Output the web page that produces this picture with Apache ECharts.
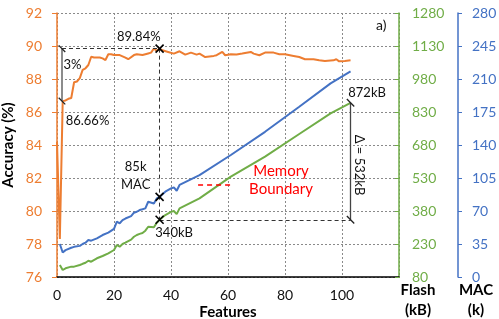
<!DOCTYPE html>
<html><head><meta charset="utf-8">
<script src="https://cdn.jsdelivr.net/npm/echarts@6/dist/echarts.min.js"></script>
<style>html,body{margin:0;padding:0;background:#fff}#c{width:499px;height:319px}</style>
</head><body><div id="c"></div>
<script>
// ---- data ----
const accFeatures = [0,1,2,3,4,5,6,7,8,9,10,11,12,13,14,15,16,17,18,19,20,22,24,25,27,28,30,32,33,34,35,36,37,39,41,43,45,47,49,50,52,55,56,58,59,61,63,65,68,69,71,73,76,78,80,83,85,87,90,92,94,97,98,99,101,103];
const accuracy = [84.2,78.3,86.66,86.7,86.8,86.85,87.8,87.85,88.05,88.55,88.65,88.85,89.35,89.3,89.3,89.3,89.25,89.15,89.5,89.5,89.45,89.45,89.3,89.2,89.45,89.5,89.45,89.55,89.6,89.85,89.7,89.84,89.74,89.64,89.54,89.68,89.48,89.6,89.48,89.54,89.33,89.4,89.44,89.64,89.44,89.5,89.48,89.54,89.64,89.54,89.44,89.6,89.6,89.5,89.5,89.4,89.33,89.2,89.2,89.13,89.09,89.13,89.2,89.07,89.09,89.13];
const hwFeatures = [1,2,3,5,6,8,9,10,11,12,14,16,18,20,21,22,23,24,26,27,28,29,30,31,32,34,35,36,38,40,41,42,43,50,61,73,85,96,103];
const macK = [35,26,28.5,31,32,33,35,36.4,39.2,38.5,41,44.5,47,51,58.7,57,60.4,62,64.5,68.2,69.2,71,71.8,72.8,79.8,78,83.4,85,90.5,94,95,91.5,97.6,108,129.4,154,180.6,205.4,218];
const flashKB = [134.5,111.8,119.5,127,127,134.5,140,145,154,149.5,165,175.5,187.7,202.7,225.5,217.7,230,236,250,263,271,276,280,290.5,308.6,306,326.8,340,361.8,376,380,366,392,437.7,536,626.8,730,824,872];

const xAxisRange = {min: 0, max: 120, interval: 20};
const accAxisRange = {min: 76, max: 92, interval: 2};
const flashAxisRange = {min: 80, max: 1280, interval: 150};
const macAxisRange = {min: 0, max: 280, interval: 35};

// annotation values
const bestFeat = 36, bestAcc = 89.84, startAcc = 86.66, bestMac = 85, bestFlash = 340, maxFlash = 872, maxFeat = 103;

const ORANGE = '#ED7D31', GREEN = '#70AD47', BLUE = '#4472C4';
const FONT = 'Lato';
const zip = (xs, ys) => xs.map((x, i) => [x, ys[i]]);
const accAtFlash = f => accAxisRange.min + (f - flashAxisRange.min) / (flashAxisRange.max - flashAxisRange.min) * (accAxisRange.max - accAxisRange.min);
const plain = v => String(v);

const grid = {left: 57, right: 100, top: 13, bottom: 42, containLabel: false, outerBoundsMode: 'none'};
const gridLine = {show: true, lineStyle: {color: '#8a8a8a', type: [2, 2], width: 1}};
const dashBlack = {color: '#333', type: [4, 3], width: 1};
const seg = (a, b, style) => [{coord: a, lineStyle: style}, {coord: b}];
const txt = (coord, text, extra) => ({coord, symbol: 'circle', symbolSize: 0,
  label: Object.assign({show: true, position: 'inside', formatter: text, color: '#111', fontSize: 13, fontFamily: FONT}, extra || {})});
const cross = coord => ({coord, symbol: 'path://M0,0L10,10M10,0L0,10', symbolSize: 8,
  itemStyle: {color: 'rgba(0,0,0,0)', borderColor: '#000', borderWidth: 1.6}, label: {show: false}});

const chart = echarts.init(document.getElementById('c'), null, {renderer: 'canvas'});
chart.setOption({
  animation: false,
  textStyle: {fontFamily: FONT},
  grid,
  xAxis: {
    type: 'value', ...xAxisRange,
    name: 'Features', nameLocation: 'middle', nameGap: 35, nameMoveOverlap: false,
    nameTextStyle: {color: '#000', fontSize: 15, fontWeight: 'bold', verticalAlign: 'middle', fontFamily: FONT},
    axisLine: {show: true, lineStyle: {color: '#000', width: 1.5}},
    axisTick: {show: false},
    axisLabel: {color: '#111', fontSize: 14, margin: 11, showMaxLabel: false, fontFamily: FONT, formatter: plain},
    splitLine: gridLine
  },
  yAxis: [
    {
      type: 'value', position: 'left', ...accAxisRange,
      name: 'Accuracy (%)', nameLocation: 'middle', nameGap: 41, nameRotate: 90, nameMoveOverlap: false,
      nameTextStyle: {color: '#000', fontSize: 15, fontWeight: 'bold', fontFamily: FONT},
      axisLine: {show: true, lineStyle: {color: ORANGE, width: 1.5}},
      axisTick: {show: true, length: 5, lineStyle: {color: ORANGE}},
      axisLabel: {color: ORANGE, fontSize: 14, margin: 15, fontFamily: FONT, formatter: plain},
      splitLine: gridLine
    },
    {
      type: 'value', position: 'right', offset: 0, ...flashAxisRange,
      name: 'Flash\n(kB)', nameLocation: 'start', nameGap: 23, nameMoveOverlap: false,
      nameTextStyle: {color: '#000', fontSize: 15, fontWeight: 'bold', lineHeight: 20, align: 'center', verticalAlign: 'middle', padding: [0, 0, 0, 38], fontFamily: FONT},
      axisLine: {show: true, lineStyle: {color: GREEN, width: 1.5}},
      axisTick: {show: true, inside: true, length: 4, lineStyle: {color: GREEN}},
      axisLabel: {color: GREEN, fontSize: 14, margin: 13, fontFamily: FONT, formatter: plain},
      splitLine: {show: false}
    },
    {
      type: 'value', position: 'right', offset: 59, ...macAxisRange,
      name: 'MAC\n(k)', nameLocation: 'start', nameGap: 23, nameMoveOverlap: false,
      nameTextStyle: {color: '#000', fontSize: 15, fontWeight: 'bold', lineHeight: 20, align: 'center', verticalAlign: 'middle', padding: [0, 0, 0, 36], fontFamily: FONT},
      axisLine: {show: true, lineStyle: {color: BLUE, width: 1.5}},
      axisTick: {show: true, length: 4, lineStyle: {color: BLUE}},
      axisLabel: {color: BLUE, fontSize: 14, margin: 14, fontFamily: FONT, formatter: plain},
      splitLine: {show: false}
    }
  ],
  series: [
    {
      type: 'line', name: 'Flash', yAxisIndex: 1, data: zip(hwFeatures, flashKB),
      showSymbol: false, symbol: 'none', lineStyle: {color: GREEN, width: 2}, z: 3,
      markLine: {silent: true, symbol: ['none', 'none'], label: {show: false}, animation: false,
        data: [
          seg([bestFeat, bestFlash], [maxFeat, bestFlash], dashBlack),
          seg([maxFeat, maxFlash], [maxFeat, bestFlash], {color: '#444', type: 'solid', width: 1.3}),
          seg([maxFeat - 1.3, maxFlash + 17], [maxFeat + 1.3, maxFlash - 17], {color: '#222', type: 'solid', width: 1.3}),
          seg([maxFeat - 1.3, bestFlash + 17], [maxFeat + 1.3, bestFlash - 17], {color: '#222', type: 'solid', width: 1.3})
        ]},
      markPoint: {silent: true, animation: false, data: [
        cross([bestFeat, bestFlash]),
        txt([41.1, 281], '340kB'),
        txt([108.8, 915], '872kB'),
        txt([106.2, 589], 'Δ = 532kB', {rotate: -90})
      ]}
    },
    {
      type: 'line', name: 'MAC', yAxisIndex: 2, data: zip(hwFeatures, macK),
      showSymbol: false, symbol: 'none', lineStyle: {color: BLUE, width: 2}, z: 3,
      markPoint: {silent: true, animation: false, data: [cross([bestFeat, bestMac])]}
    },
    {
      type: 'line', name: 'Accuracy', yAxisIndex: 0, data: zip(accFeatures, accuracy),
      showSymbol: false, symbol: 'none', lineStyle: {color: ORANGE, width: 2}, z: 4,
      markLine: {silent: true, symbol: ['none', 'none'], label: {show: false}, animation: false,
        data: [
          seg([1.75, bestAcc], [bestFeat, bestAcc], dashBlack),
          seg([bestFeat, bestAcc], [bestFeat, accAtFlash(bestFlash)], dashBlack),
          seg([1.75, bestAcc], [1.75, startAcc], {color: '#8c8c8c', type: 'solid', width: 2}),
          seg([0.6, bestAcc + 0.2], [2.9, bestAcc - 0.2], {color: '#222', type: 'solid', width: 1.3}),
          seg([0.6, startAcc + 0.2], [2.9, startAcc - 0.2], {color: '#222', type: 'solid', width: 1.3}),
          seg([49.5, 81.62], [61.2, 81.62], {color: '#ff0000', type: [5, 4], width: 1.5})
        ]},
      markPoint: {silent: true, animation: false, data: [
        cross([bestFeat, bestAcc]),
        txt([28.7, 90.55], '89.84%'),
        txt([5.4, 88.85], '3%'),
        txt([10.7, 85.48], '86.66%'),
        txt([27.6, 82.12], '85k\nMAC', {lineHeight: 18, align: 'center'}),
        txt([113.8, 91.27], 'a)', {fontSize: 14}),
        txt([78.6, 81.88], 'Memory\nBoundary', {color: '#ff0000', fontSize: 15, lineHeight: 18, align: 'center'})
      ]}
    }
  ]
});
</script></body></html>
